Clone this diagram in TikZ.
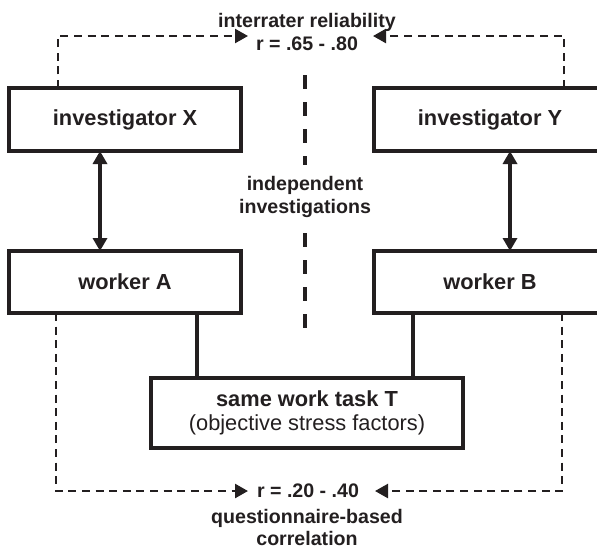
\documentclass[tikz,border=0pt]{standalone}
\usepackage{fontspec}
\setmainfont{Liberation Sans}
\usetikzlibrary{arrows.meta,calc}
\definecolor{ink}{HTML}{231F20}
\begin{document}
\begin{tikzpicture}[x=0.5pt,y=-0.5pt,
  box/.style={draw=ink,line width=1.8pt,minimum width=116pt,inner sep=0pt,outer sep=0pt,
    font=\bfseries\fontsize{10.9}{12}\selectfont,text=ink},
  lab/.style={font=\bfseries\fontsize{9.8}{11.5}\selectfont,text=ink,inner sep=0pt,anchor=base},
  link/.style={draw=ink,line width=1.7pt},
  dbl/.style={link,{Triangle[length=6.5pt,width=7pt]}-{Triangle[length=6.5pt,width=7pt]}},
  outer/.style={draw=ink,line width=1.2pt,dash pattern=on 4pt off 2.8pt,-{Triangle[length=6.5pt,width=7pt]}},
  mid/.style={draw=ink,line width=2.2pt,dash pattern=on 7pt off 6.5pt}]
\clip (0,0) rectangle (597,547);
\fill[white] (0,0) rectangle (597,547);

% boxes
\node[box,minimum height=31.5pt] (invX) at (125,119.5) {investigator X};
\node[box,minimum height=31.5pt] (invY) at (490,119.5) {investigator Y};
\node[box,minimum height=31pt] (wA) at (125,282) {worker A};
\node[box,minimum height=31pt] (wB) at (490,282) {worker B};
\node[box,minimum width=156pt,minimum height=35pt,align=center] (task) at (307,413)
  {same work task T\\{\mdseries (objective stress factors)}};

% labels
\node[lab] (rel) at (307,27) {interrater reliability};
\node[lab] (rtop) at (307,50) {r = .65 - .80};
\node[lab] (ind1) at (305,190) {independent};
\node[lab] (ind2) at (305,213) {investigations};
\node[lab] (rbot) at (308,497) {r = .20 - .40};
\node[lab] (q1) at (307,523) {questionnaire-based};
\node[lab] (q2) at (307,545) {correlation};

% double arrows
\draw[dbl] ($(invX.south west)+(91,0)$) -- ($(wA.north west)+(91,0)$);
\draw[dbl] ($(invY.south west)+(136,0)$) -- ($(wB.north west)+(136,0)$);

% solid links to task
\coordinate (a1) at ($(wA.south west)+(188,0)$);
\coordinate (b1) at ($(wB.south west)+(39,0)$);
\draw[link] (a1) -- (a1 |- task.north);
\draw[link] (b1) -- (b1 |- task.north);

% dashed outer connectors
\coordinate (tl) at (248,36);
\coordinate (tr) at (373,36);
\coordinate (bl) at (248,491);
\coordinate (br) at (375,491);
\draw[outer] ($(invX.north west)+(49,0)$) |- (tl);
\draw[outer] ($(invY.north west)+(190,0)$) |- (tr);
\draw[outer] ($(wA.south west)+(47,0)$) |- (bl);
\draw[outer] ($(wB.south west)+(188,0)$) |- (br);

% central dashed divider
\coordinate (m1) at (305,75);
\coordinate (m2) at (305,165);
\coordinate (m3) at (305,233);
\coordinate (m4) at (305,330);
\draw[mid] (m1) -- (m2);
\draw[mid] (m3) -- (m4);
\end{tikzpicture}
\end{document}
